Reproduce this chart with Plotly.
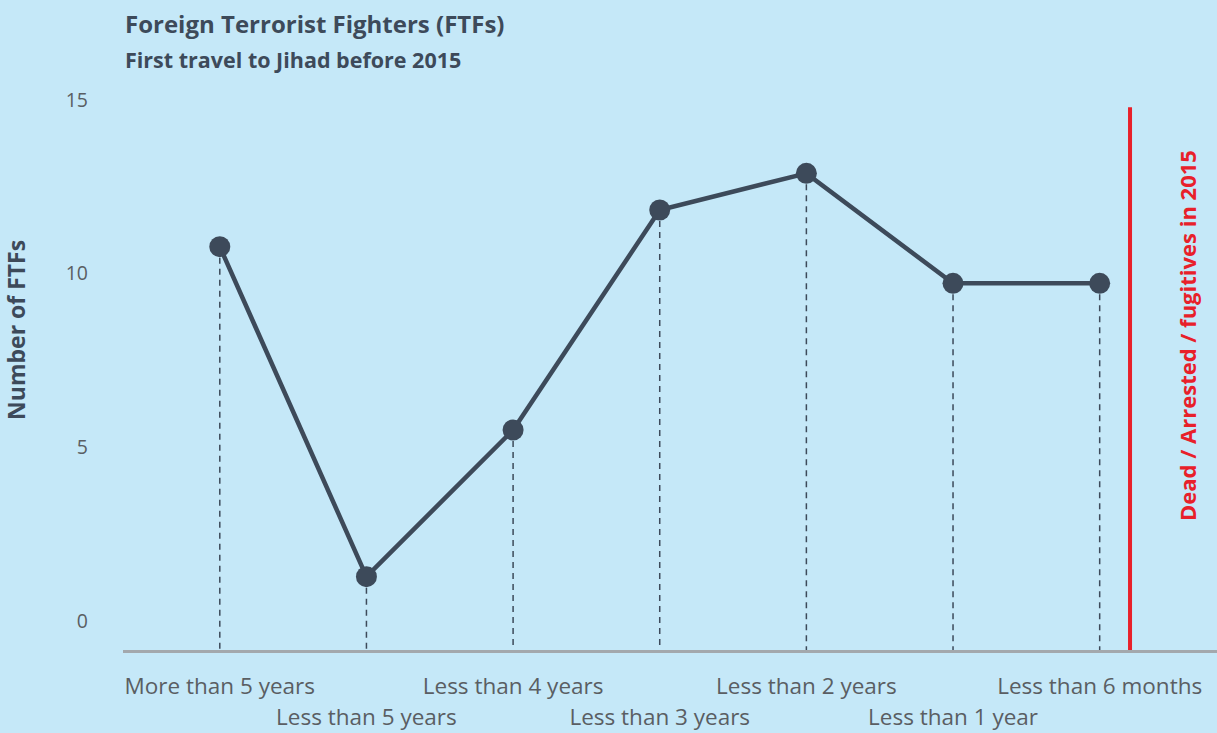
import plotly.graph_objects as go

categories = ["More than 5 years", "Less than 5 years", "Less than 4 years",
              "Less than 3 years", "Less than 2 years", "Less than 1 year",
              "Less than 6 months"]
ftf_counts = [11, 2, 6, 12, 13, 10, 10]
y_ticks = [0, 5, 10, 15]

title = "Foreign Terrorist Fighters (FTFs)"
subtitle = "First travel to Jihad before 2015"
y_title = "Number of FTFs"
marker_label = "Dead / Arrested / fugitives in 2015"

BG = "#c5e8f8"
DARK = "#3d4a5a"
RED = "#e8202a"
FONT = "'Open Sans', sans-serif"
TICK_COLOR = "#5a5e63"

idx = list(range(len(categories)))
row1_idx = idx[0::2]
row2_idx = idx[1::2]
row1_text = categories[0::2]
row2_text = categories[1::2]

# dashed drop lines from each point to the baseline
dx, dy = [], []
for i, v in zip(idx, ftf_counts):
    dx += [i, i, None]
    dy += [v, 0, None]

fig = go.Figure()
fig.add_trace(go.Scatter(x=dx, y=dy, mode="lines",
                         line=dict(color=DARK, width=1.5, dash="6px,5px"),
                         hoverinfo="skip", showlegend=False))
fig.add_trace(go.Scatter(x=idx, y=ftf_counts, mode="lines+markers",
                         line=dict(color=DARK, width=4.5),
                         marker=dict(color=DARK, size=21),
                         showlegend=False))
# invisible trace to activate the secondary label axes
fig.add_trace(go.Scatter(x=[idx[0]], y=[y_ticks[0]], xaxis="x2", yaxis="y2",
                         mode="markers", marker=dict(opacity=0),
                         hoverinfo="skip", showlegend=False))

fig.add_shape(type="line", xref="paper", yref="y", x0=0.9205, x1=0.9205,
              y0=0, y1=14.8, line=dict(color=RED, width=4))

xrange = [-0.66, 6.8]
fig.update_layout(
    width=1217, height=733,
    paper_bgcolor=BG, plot_bgcolor=BG,
    margin=dict(l=123, r=0, t=100, b=83),
    font=dict(family=FONT, color="#555a60"),
    xaxis=dict(range=xrange, tickvals=row1_idx, ticktext=row1_text,
               tickangle=0, showgrid=False, zeroline=False, showline=True,
               linecolor="#a3a8ad", linewidth=2.5, ticks="",
               ticklabelstandoff=14, automargin=False,
               tickfont=dict(size=22.5, color=TICK_COLOR)),
    xaxis2=dict(range=xrange, overlaying="x", side="bottom", anchor="y",
                tickvals=row2_idx, ticktext=row2_text,
                tickangle=0, showgrid=False, zeroline=False, showline=False,
                ticks="", ticklabelstandoff=51, automargin=False,
                tickfont=dict(size=22.5, color=TICK_COLOR)),
    yaxis=dict(range=[0, 15], showticklabels=False, showgrid=False,
               zeroline=False, showline=False, ticks=""),
    yaxis2=dict(range=[-0.835, 15], overlaying="y", side="left", anchor="x",
                tickvals=y_ticks, showgrid=False, zeroline=False,
                showline=False, ticks="", ticklabelstandoff=34,
                automargin=False,
                tickfont=dict(size=19.5, color=TICK_COLOR)),
    annotations=[
        dict(text="<b>" + title + "</b>", xref="paper", yref="paper",
             x=0, y=1.14, xanchor="left", yanchor="middle", showarrow=False,
             font=dict(size=24, color=DARK, family=FONT)),
        dict(text="<b>" + subtitle + "</b>", xref="paper", yref="paper",
             x=0, y=1.0745, xanchor="left", yanchor="middle", showarrow=False,
             font=dict(size=21.5, color=DARK, family=FONT)),
        dict(text="<b>" + y_title + "</b>", xref="paper", yref="paper",
             x=-0.0978, y=0.582, xanchor="center", yanchor="middle",
             textangle=-90, showarrow=False,
             font=dict(size=23, color=DARK, family=FONT)),
        dict(text="<b>" + marker_label + "</b>", xref="paper", yref="paper",
             x=0.9726, y=0.571, xanchor="center", yanchor="middle",
             textangle=-90, showarrow=False,
             font=dict(size=22, color=RED, family=FONT)),
    ],
)

fig.write_html("out.html", config={"displayModeBar": False},
               post_script="document.body.style.margin='0';document.body.style.overflow='hidden';")
